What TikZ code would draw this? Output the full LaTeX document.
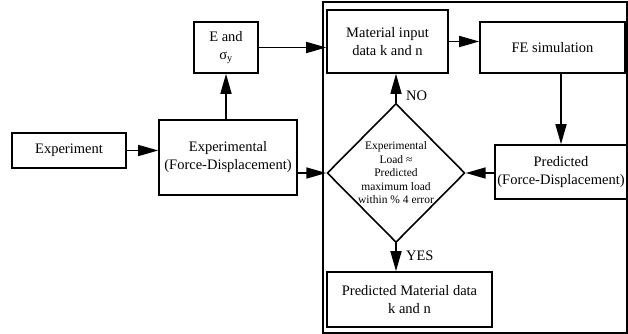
\documentclass[tikz,border=0pt]{standalone}
\usepackage{fontspec}
\setmainfont{Liberation Serif}
\usetikzlibrary{arrows.meta,shapes.geometric,positioning}

\begin{document}
\begin{tikzpicture}[x=1pt,y=1pt,line width=1.6pt,
    arr/.style={-{Triangle[length=20pt,width=11pt]}},
    box/.style={draw,rectangle,align=center,inner sep=0pt,font=\fontsize{14.5}{18}\selectfont},
    check/.style={draw,diamond,inner sep=0pt,align=center,font=\fontsize{11.5}{13.5}\selectfont},
    lbl/.style={font=\fontsize{14.5}{18}\selectfont}]
  \useasboundingbox (0,0) rectangle (628,334);
  % simulation loop frame
  \draw[line width=1.1pt] (323,1) rectangle (627,332);

  \node[box,minimum width=114pt,minimum height=35pt] (exp) at (69,183.5) {Experiment};
  \node[box,minimum width=138pt,minimum height=75pt] (exp_fd) at (228,176.5) {Experimental\\(Force-Displacement)};
  \node[box,minimum width=64pt,minimum height=51pt] (e_sig) at (226,286.5) {E and\\σ\textsubscript{y}};
  \node[box,minimum width=121pt,minimum height=63pt] (mat_in) at (387.5,292.5) {Material input\\data k and n};
  \node[box,minimum width=145pt,minimum height=51pt] (fe_sim) at (552.5,286.5) {FE simulation};
  \node[box,minimum width=132pt,minimum height=54pt] (pred_fd) at (561,162) {Predicted\\(Force-Displacement)};
  \node[check,minimum width=137pt,minimum height=139pt] (chk) at (396,161)
    {Experimental\\Load ≈\\Predicted\\maximum load\\within \% 4 error};
  \node[box,minimum width=165pt,minimum height=55pt] (pred_mat) at (409.5,34.5) {Predicted Material data\\k and n};

  \draw[arr] (exp.east) -- (exp.east -| exp_fd.west);
  \draw[arr] (e_sig.south |- exp_fd.north) -- (e_sig.south);
  \draw[arr] (e_sig.east) -- (e_sig.east -| mat_in.west);
  \draw[arr] (mat_in.east) -- (mat_in.east -| fe_sim.west);
  \draw[arr] (pred_fd.north |- fe_sim.south) -- (pred_fd.north);
  \draw[arr] (chk.west -| exp_fd.east) -- (chk.west);
  \draw[arr] (chk.east -| pred_fd.west) -- (chk.east);
  \draw[arr] (chk.north) -- node[lbl,right=6pt,pos=0.25] {NO} (chk.north |- mat_in.south);
  \draw[arr] (chk.south) -- node[lbl,right=6pt,pos=0.45] {YES} (chk.south |- pred_mat.north);
\end{tikzpicture}
\end{document}
